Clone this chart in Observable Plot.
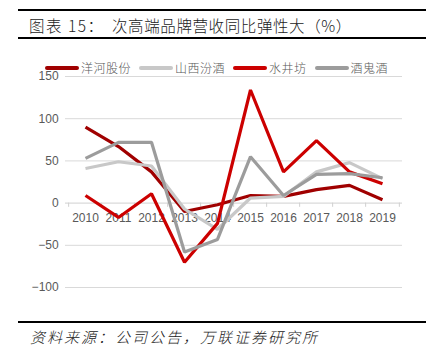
<!DOCTYPE html>
<html>
<head>
<meta charset="utf-8">
<script src="https://cdn.jsdelivr.net/npm/d3@7"></script>
<script src="https://cdn.jsdelivr.net/npm/@observablehq/plot@0.6"></script>
<style>
  html, body { margin: 0; padding: 0; background: #fff; }
  body { width: 436px; height: 354px; position: relative; overflow: hidden; font-family: "Noto Sans CJK SC", "Noto Sans", sans-serif; }
  .rule { position: absolute; left: 18px; width: 408px; height: 2px; background: #000; }
  .title { position: absolute; top: 14px; font-size: 15.5px; color: #222; white-space: nowrap; line-height: 22px; font-weight: 300; }
  #t1 { left: 29px; letter-spacing: 1.5px; }
  #t2 { left: 112px; letter-spacing: 0.6px; }
  #legend { position: absolute; top: 60px; left: 45px; font-size: 12px; letter-spacing: 0.5px; color: #595959; white-space: nowrap; line-height: 16px; display: flex; align-items: center; font-weight: 300; }
  .item { display: flex; align-items: center; margin-right: 8px; }
  .sw { display: inline-block; width: 34px; height: 4px; border-radius: 2px; margin-right: 2px; }
  #chart { position: absolute; left: 0; top: 60px; }
  #source { position: absolute; left: 30px; top: 327px; font-size: 15px; letter-spacing: 2px; font-style: italic; color: #222; white-space: nowrap; line-height: 20px; font-weight: 300; }
</style>
</head>
<body>
<div class="rule" style="top:9px"></div>
<div class="title" id="t1">图表 15：</div>
<div class="title" id="t2">次高端品牌营收同比弹性大（%）</div>
<div class="rule" style="top:37px"></div>
<div id="chart"></div>
<div id="legend"></div>
<div class="rule" style="top:321px"></div>
<div id="source">资料来源：公司公告，万联证券研究所</div>
<script>
const years = ["2010","2011","2012","2013","2014","2015","2016","2017","2018","2019"];
const seriesNames = ["洋河股份", "山西汾酒", "水井坊", "酒鬼酒"];
const yanghe   = [90, 67, 37, -10, -2, 9, 8, 16, 21, 4];
const fenjiu   = [41, 49, 44, -7, -31, 6, 8, 37, 48, 29];
const shuijing = [9, -17, 11, -70, -24, 134, 37, 74, 37, 23];
const jiugui   = [53, 72, 72, -58, -43, 55, 9, 34, 35, 30];
const yTicks = [-100, -50, 0, 50, 100, 150];
const colors = ["#A00000", "#C8C8C8", "#CC0000", "#9C9C9C"];

const seriesValues = [yanghe, fenjiu, shuijing, jiugui];
const data = [];
seriesNames.forEach((name, i) => {
  years.forEach((yr, j) => data.push({series: name, year: yr, value: seriesValues[i][j]}));
});

// legend
const legend = document.getElementById("legend");
seriesNames.forEach((name, i) => {
  const it = document.createElement("span");
  it.className = "item";
  it.innerHTML = `<span class="sw" style="background:${colors[i]}"></span><span>${name}</span>`;
  legend.appendChild(it);
});

const W = 436, mL = 65, mR = 34;
const step = (W - mL - mR) / years.length;

const chart = Plot.plot({
  width: W,
  height: 240,
  marginLeft: mL,
  marginRight: mR,
  marginTop: 16,
  marginBottom: 13,
  style: {fontFamily: "Liberation Sans, Arial, sans-serif", fontSize: "12px", color: "#595959", background: "transparent"},
  x: {type: "point", domain: years, padding: 0.5, axis: null},
  y: {domain: [-100, 150], ticks: yTicks, axis: null},
  color: {domain: seriesNames, range: colors},
  marks: [
    Plot.ruleY(yTicks.filter(d => d !== 0), {y: d => d, stroke: "#D9D9D9", strokeWidth: 1}),
    Plot.ruleY([0], {stroke: "#D0D0D0", strokeWidth: 1}),
    Plot.ruleX(years, {x: d => d, y1: 0, y2: -5, dx: -step / 2, stroke: "#D0D0D0"}),
    Plot.ruleX(years.slice(-1), {x: d => d, y1: 0, y2: -5, dx: step / 2, stroke: "#D0D0D0"}),
    Plot.text(yTicks, {x: () => years[0], y: d => d, text: d => d3.format("d")(d).replace("-", "\u2212"), textAnchor: "end", dx: -(step / 2 + 10), fill: "#595959", fontSize: 12}),
    Plot.text(years, {x: d => d, y: () => 0, text: d => d, dy: 15, fill: "#595959", fontSize: 12}),
    Plot.line(data, {x: "year", y: "value", z: "series", stroke: "series", strokeWidth: 3.2, strokeLinejoin: "miter", strokeLinecap: "butt"})
  ]
});
document.getElementById("chart").appendChild(chart);
</script>
</body>
</html>
